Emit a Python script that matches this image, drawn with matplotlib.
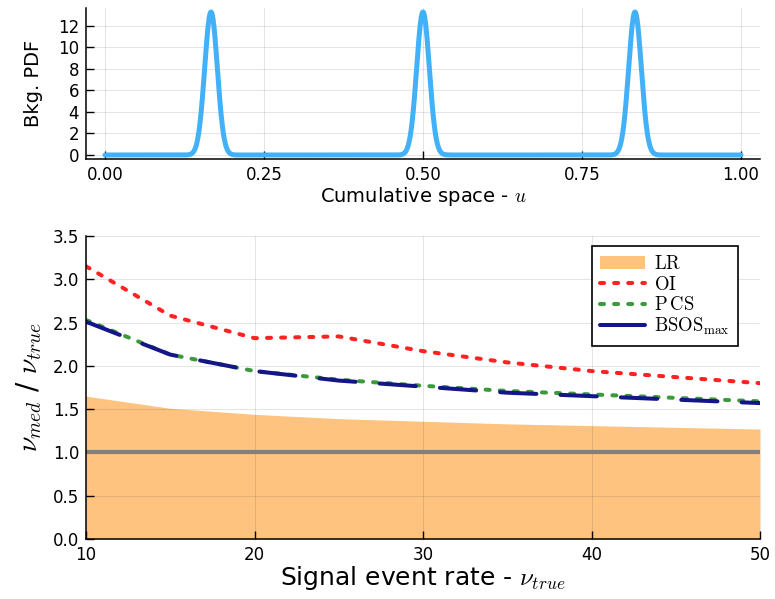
import numpy as np
import matplotlib
matplotlib.use("Agg")
import matplotlib.pyplot as plt
from matplotlib.patches import Patch
from matplotlib.lines import Line2D

plt.rcParams['mathtext.fontset'] = 'cm'
plt.rcParams['font.family'] = ['DejaVu Sans']

# ---- data ----
peak_centers = [1/6, 1/2, 5/6]
peak_sigma = 0.01
peak_weights = [1/3, 1/3, 1/3]

nu_true = [10, 15, 20, 25, 30, 35, 40, 45, 50]
lr_vals = [1.65, 1.51, 1.44, 1.39, 1.36, 1.33, 1.31, 1.29, 1.27]
oi_vals = [3.15, 2.58, 2.32, 2.34, 2.17, 2.04, 1.94, 1.87, 1.80]
pcs_vals = [2.53, 2.13, 1.94, 1.84, 1.77, 1.71, 1.67, 1.63, 1.59]
bsos_vals = [2.51, 2.13, 1.94, 1.83, 1.76, 1.69, 1.65, 1.61, 1.57]
ref_val = 1.0

W, H = 775, 599
fig = plt.figure(figsize=(W/100, H/100), dpi=100)

def px_axes(l, t, r, b):
    return fig.add_axes([l/W, (H-b)/H, (r-l)/W, (b-t)/H])

grid_kw = dict(color='black', alpha=0.1, lw=0.8)

# ---- top panel ----
ax1 = px_axes(86, 8, 760, 159)
u = np.linspace(0, 1, 2001)
pdf = np.zeros_like(u)
for c, w in zip(peak_centers, peak_weights):
    pdf += w * np.exp(-0.5*((u-c)/peak_sigma)**2) / (peak_sigma*np.sqrt(2*np.pi))
ax1.plot(u, pdf, color='#42b1f8', lw=3.6, solid_capstyle='round', zorder=3)
ax1.set_xlim(-0.0299, 1.0299)
ax1.set_ylim(-0.372, 13.67)
ax1.set_xticks([0, 0.25, 0.5, 0.75, 1.0])
ax1.set_xticklabels(['0.00', '0.25', '0.50', '0.75', '1.00'])
ax1.set_yticks(range(0, 13, 2))
ax1.grid(True, **grid_kw)
ax1.set_axisbelow('line')
ax1.set_xlabel(r'Cumulative space - $u$', fontsize=14, labelpad=1)
ax1.set_ylabel('Bkg. PDF', fontsize=14, labelpad=11)

# ---- bottom panel ----
ax2 = px_axes(86, 236, 760, 539)
ax2.fill_between(nu_true, 0, lr_vals, color='#fec37f', lw=0, zorder=0.2)
ax2.axhline(ref_val, color='#808080', lw=3.0, zorder=2)
ax2.plot(nu_true, oi_vals, color='#ff2222', lw=2.9, dashes=(1.0, 2.5),
         dash_capstyle='round', zorder=3)
ax2.plot(nu_true, pcs_vals, color='#3c9a3c', lw=2.9, dashes=(1.0, 2.5),
         dash_capstyle='round', zorder=4)
ax2.plot(nu_true, bsos_vals, color='#15158a', lw=2.9, dashes=(9.0, 6.0),
         dash_capstyle='round', zorder=5)
ax2.set_xlim(10, 50)
ax2.set_ylim(0, 3.5)
ax2.set_xticks([10, 20, 30, 40, 50])
ax2.set_yticks(np.arange(0, 3.51, 0.5))
ax2.set_yticklabels([f'{v:.1f}' for v in np.arange(0, 3.51, 0.5)])
ax2.grid(True, **grid_kw)
ax2.set_axisbelow('line')
ax2.set_xlabel(r'Signal event rate - $\nu_{true}$', fontsize=18, labelpad=0)
ax2.set_ylabel(r'$\nu_{med}$ / $\nu_{true}$', fontsize=20, labelpad=6)

handles = [
    Patch(facecolor='#fec37f', edgecolor='none'),
    Line2D([], [], color='#ff2222', lw=2.9, dashes=(1.0, 2.5), dash_capstyle='round'),
    Line2D([], [], color='#3c9a3c', lw=2.9, dashes=(1.0, 2.5), dash_capstyle='round'),
    Line2D([], [], color='#15158a', lw=2.9, solid_capstyle='round'),
]
labels = [r'$\mathrm{LR}$', r'$\mathrm{OI}$', r'$\mathrm{P\,CS}$', r'$\mathrm{BSOS}_{\mathrm{max}}$']
leg = ax2.legend(handles, labels, loc='upper right',
                 bbox_to_anchor=((738-86)/674, (539-246)/303),
                 borderaxespad=0, fontsize=13.5, fancybox=False, framealpha=1,
                 edgecolor='black', handlelength=2.4, handletextpad=0.45,
                 labelspacing=0.08, borderpad=0.45)
leg.get_frame().set_linewidth(1.2)

for ax in (ax1, ax2):
    ax.spines['top'].set_visible(False)
    ax.spines['right'].set_visible(False)
    for s in ('left', 'bottom'):
        ax.spines[s].set_linewidth(1.1)
        ax.spines[s].set_zorder(6)
    ax.tick_params(direction='in', length=6, width=1.0, labelsize=12, pad=5)

fig.savefig('out.png', dpi=100)
